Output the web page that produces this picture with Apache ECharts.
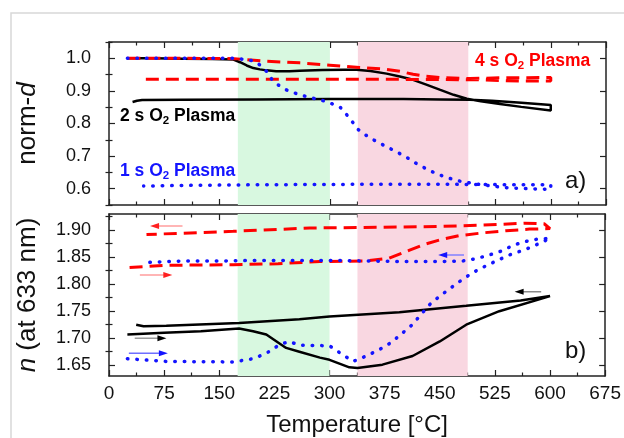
<!DOCTYPE html>
<html><head><meta charset="utf-8">
<script src="https://cdn.jsdelivr.net/npm/echarts@6/dist/echarts.min.js"></script>
<style>html,body{margin:0;padding:0;background:#fff}#c{width:624px;height:438px}</style>
</head><body><div id="c"></div>
<script>
// ---------- data ----------
const xTickValues = [0, 75, 150, 225, 300, 375, 450, 525, 600, 675];
const dTickLabels = [0.6, 0.7, 0.8, 0.9, 1.0];
const dMinorTicks = [0.55, 0.65, 0.75, 0.85, 0.95, 1.05];
const nTickLabels = [1.65, 1.70, 1.75, 1.80, 1.85, 1.90];
const nMinorTicks = [1.675, 1.725, 1.775, 1.825, 1.875, 1.925];
const greenBand = [175, 300];
const pinkBand = [338, 488];

// norm-d, 2 s O2 plasma (heating then cooling)
const d2s = [[25,1.0],[60,1.0],[100,0.999],[140,0.998],[169,0.996],[178,0.988],[187,0.978],[196,0.970],[205,0.966],[214,0.963],[227,0.960],[245,0.960],[259,0.962],[290,0.964],[320,0.965],[336,0.965],[355,0.961],[377,0.953],[395,0.944],[413,0.934],[430,0.920],[450,0.903],[468,0.888],[486,0.876],[505,0.868],[531,0.860],[560,0.851],[600,0.840],
  [600,0.857],[560,0.864],[520,0.870],[490,0.873],[450,0.874],[400,0.875],[300,0.875],[200,0.874],[100,0.873],[45,0.872],[38,0.870],[32,0.866]];
// norm-d, 4 s O2 plasma
const d4s = [[25,1.0],[100,1.0],[170,0.999],[214,0.991],[259,0.986],[300,0.979],[340,0.972],[372,0.967],[395,0.960],[413,0.951],[430,0.945],[450,0.941],[490,0.938],[531,0.940],[600,0.941],
  [600,0.930],[560,0.930],[531,0.932],[500,0.934],[450,0.935],[300,0.936],[150,0.936],[47,0.936]];
// norm-d, 1 s O2 plasma
const d1s = [[25,1.0],[100,1.0],[170,1.0],[190,0.995],[200,0.989],[207,0.975],[214,0.960],[223,0.929],[232,0.915],[241,0.903],[259,0.888],[278,0.877],[296,0.867],[314,0.850],[327,0.816],[338,0.782],[354,0.756],[370,0.737],[388,0.716],[403,0.698],[419,0.675],[437,0.654],[453,0.639],[472,0.625],[492,0.617],[513,0.610],[540,0.603],[570,0.600],[600,0.598],
  [600,0.612],[550,0.612],[500,0.613],[400,0.614],[300,0.613],[200,0.612],[100,0.610],[47,0.608]];

// refractive index n at 633 nm
const n2s = [[25,1.707],[75,1.710],[125,1.713],[177,1.718],[196,1.713],[214,1.707],[228,1.694],[241,1.682],[259,1.675],[287,1.664],[300,1.660],[327,1.646],[338,1.645],[372,1.651],[413,1.667],[450,1.694],[486,1.725],[531,1.750],[600,1.778],
  [560,1.770],[486,1.760],[395,1.748],[300,1.740],[259,1.735],[177,1.728],[78,1.723],[47,1.722],[37,1.725]];
const n4s = [[28,1.831],[78,1.835],[169,1.836],[230,1.838],[287,1.842],[350,1.843],[381,1.848],[409,1.863],[430,1.874],[450,1.882],[477,1.890],[508,1.895],[540,1.899],[572,1.902],[600,1.903],
  [592,1.912],[565,1.913],[535,1.911],[501,1.909],[450,1.907],[395,1.906],[273,1.904],[169,1.898],[51,1.892]];
const n1s = [[25,1.662],[78,1.657],[169,1.656],[196,1.662],[214,1.672],[232,1.688],[245,1.694],[259,1.687],[300,1.686],[314,1.673],[332,1.657],[350,1.667],[368,1.679],[384,1.692],[397,1.707],[411,1.723],[422,1.740],[436,1.762],[450,1.778],[466,1.794],[481,1.809],[497,1.823],[513,1.834],[530,1.845],[548,1.856],[566,1.864],[583,1.874],[600,1.885],
  [581,1.883],[563,1.878],[550,1.872],[533,1.861],[517,1.854],[499,1.847],[481,1.843],[450,1.842],[400,1.842],[350,1.843],[300,1.844],[250,1.844],[200,1.844],[150,1.843],[100,1.843],[47,1.840]];

// direction arrows in panel b) : [start, end]
const arrowRedLeft = [[100,1.908],[62,1.908]];
const arrowRedRight = [[42,1.817],[80,1.817]];
const arrowBlackRight = [[35,1.700],[72,1.700]];
const arrowBlueRight = [[27,1.672],[74,1.672]];
const arrowBlueLeft = [[483,1.854],[454,1.854]];
const arrowBlackLeft = [[588,1.786],[558,1.786]];

// ---------- chart ----------
const FONT = "'Liberation Sans', Arial, sans-serif";
const NARROW = "'Liberation Sans Narrow', 'Liberation Sans', Arial, sans-serif";
const AX = '#222';

function xAx(grid, pos, labels) {
  const a = {
    type: 'value', gridIndex: grid, position: pos, min: 0, max: 675, interval: 75,
    axisLine: {show: true, onZero: false, lineStyle: {color: AX, width: 1.5}},
    axisTick: {show: true, inside: true, length: 6, lineStyle: {color: AX, width: 1.2}},
    minorTick: {show: true, splitNumber: 2, length: 3.5, lineStyle: {color: AX, width: 1.2}},
    splitLine: {show: false},
    axisLabel: {show: labels, fontFamily: FONT, fontSize: 19, color: '#111', margin: 8}
  };
  if (labels) {
    a.name = 'Temperature [°C]';
    a.nameLocation = 'middle';
    a.nameGap = 37;
    a.nameTextStyle = {fontFamily: FONT, fontSize: 24, color: '#111'};
  }
  return a;
}
function yMajor(grid, pos, min, max, vals, dec, name) {
  const a = {
    type: 'value', gridIndex: grid, position: pos, min: min, max: max,
    axisLine: {show: true, onZero: false, lineStyle: {color: AX, width: 1.5}},
    axisTick: {show: true, inside: true, length: 6, customValues: vals, lineStyle: {color: AX, width: 1.2}},
    splitLine: {show: false},
    axisLabel: {show: pos === 'left', customValues: vals, formatter: v => Number(v).toFixed(dec),
      fontFamily: NARROW, fontSize: 18, color: '#111', margin: 18}
  };
  if (name) {
    a.name = name.text;
    a.nameLocation = 'middle';
    a.nameGap = 68;
    a.nameTextStyle = {fontFamily: FONT, fontSize: 26, color: '#111',
      rich: {r: {fontFamily: FONT, fontSize: 26, color: '#111'},
             i: {fontFamily: FONT, fontSize: 26, color: '#111', fontStyle: 'italic'}}};
  }
  return a;
}
function yMinor(grid, pos, min, max, vals) {
  return {
    type: 'value', gridIndex: grid, position: pos, min: min, max: max,
    axisLine: {show: false},
    axisTick: {show: true, inside: true, length: 3.5, customValues: vals, lineStyle: {color: AX, width: 1.2}},
    splitLine: {show: false}, axisLabel: {show: false}
  };
}

const blackStyle = {color: '#000', width: 2.5};
const redStyle = {color: '#ff0000', width: 3, type: [13, 7]};
const blueStyle = {color: '#1414ff', width: 3.5, type: [0.5, 9], cap: 'round'};

function curve(data, style, xi, yi) {
  return {type: 'line', data: data, xAxisIndex: xi, yAxisIndex: yi, symbol: 'none', showSymbol: false,
    lineStyle: style, z: 3, silent: true, animation: false};
}
function arrow(data, lineColor, headColor, rot) {
  return {type: 'line', xAxisIndex: 2, yAxisIndex: 4, symbol: 'none', showSymbol: true, z: 4, silent: true,
    lineStyle: {color: lineColor, width: 1.5},
    data: [data[0], {value: data[1], symbol: 'triangle', symbolSize: [6, 9], symbolRotate: rot,
      itemStyle: {color: headColor}}]};
}
function bands(xi, yi) {
  return {type: 'line', xAxisIndex: xi, yAxisIndex: yi, data: [], z: 1, silent: true,
    markArea: {silent: true, data: [
      [{xAxis: greenBand[0], itemStyle: {color: '#d8f8e0'}}, {xAxis: greenBand[1]}],
      [{xAxis: pinkBand[0], itemStyle: {color: '#f9d7e1'}}, {xAxis: pinkBand[1]}]
    ]}};
}

const sub = {fontFamily: FONT, fontSize: 11.5, fontWeight: 'bold', padding: [9, 0, 0, 0]};
function plasmaLabel(x, y, t, color) {
  return {type: 'text', x: x, y: y, z: 10, style: {
    text: '{m|' + t + ' s O}{s|2}{m| Plasma}', verticalAlign: 'middle',
    rich: {m: {fontFamily: FONT, fontSize: 17.5, fontWeight: 'bold', fill: color, color: color},
           s: Object.assign({fill: color, color: color}, sub)}}};
}

const option = {
  animation: false,
  backgroundColor: '#fff',
  grid: [
    {left: 109, top: 42, width: 497, height: 163},
    {left: 109, top: 214, width: 497, height: 162}
  ],
  xAxis: [xAx(0, 'bottom', false), xAx(0, 'top', false), xAx(1, 'bottom', true), xAx(1, 'top', false)],
  yAxis: [
    yMajor(0, 'left', 0.55, 1.05, dTickLabels, 1, {text: '{r|norm-}{i|d}'}),
    yMinor(0, 'left', 0.55, 1.05, dMinorTicks),
    yMajor(0, 'right', 0.55, 1.05, dTickLabels, 1),
    yMinor(0, 'right', 0.55, 1.05, dMinorTicks),
    yMajor(1, 'left', 1.63, 1.93, nTickLabels, 2, {text: '{i|n}{r| (at 633 nm)}'}),
    yMinor(1, 'left', 1.63, 1.93, nMinorTicks),
    yMajor(1, 'right', 1.63, 1.93, nTickLabels, 2),
    yMinor(1, 'right', 1.63, 1.93, nMinorTicks)
  ],
  series: [
    bands(0, 0), bands(2, 4),
    curve(d2s, blackStyle, 0, 0), curve(d4s, redStyle, 0, 0), curve(d1s, blueStyle, 0, 0),
    curve(n2s, blackStyle, 2, 4), curve(n4s, redStyle, 2, 4), curve(n1s, blueStyle, 2, 4),
    arrow(arrowRedLeft, '#ff9c9c', '#ff2020', 90),
    arrow(arrowRedRight, '#ff9c9c', '#ff2020', -90),
    arrow(arrowBlackRight, '#9a9a9a', '#000', -90),
    arrow(arrowBlueRight, '#6e6eff', '#1414ff', -90),
    arrow(arrowBlueLeft, '#8080ff', '#1414ff', 90),
    arrow(arrowBlackLeft, '#8a8a8a', '#000', 90)
  ],
  graphic: [
    {type: 'rect', shape: {x: 11, y: 13, width: 700, height: 500}, style: {fill: 'none', stroke: '#d8d8d8', lineWidth: 1.5}, z: -1, silent: true},
    plasmaLabel(475, 61, '4', '#ff0000'),
    plasmaLabel(120, 116, '2', '#000'),
    plasmaLabel(120, 171, '1', '#1414ff'),
    {type: 'text', x: 565, y: 181, z: 10, style: {text: 'a)', fontFamily: FONT, fontSize: 24, fill: '#111', verticalAlign: 'middle'}},
    {type: 'text', x: 565, y: 351, z: 10, style: {text: 'b)', fontFamily: FONT, fontSize: 24, fill: '#111', verticalAlign: 'middle'}}
  ]
};
const chart = echarts.init(document.getElementById('c'), null, {renderer: 'canvas'});
chart.setOption(option);
</script></body></html>
